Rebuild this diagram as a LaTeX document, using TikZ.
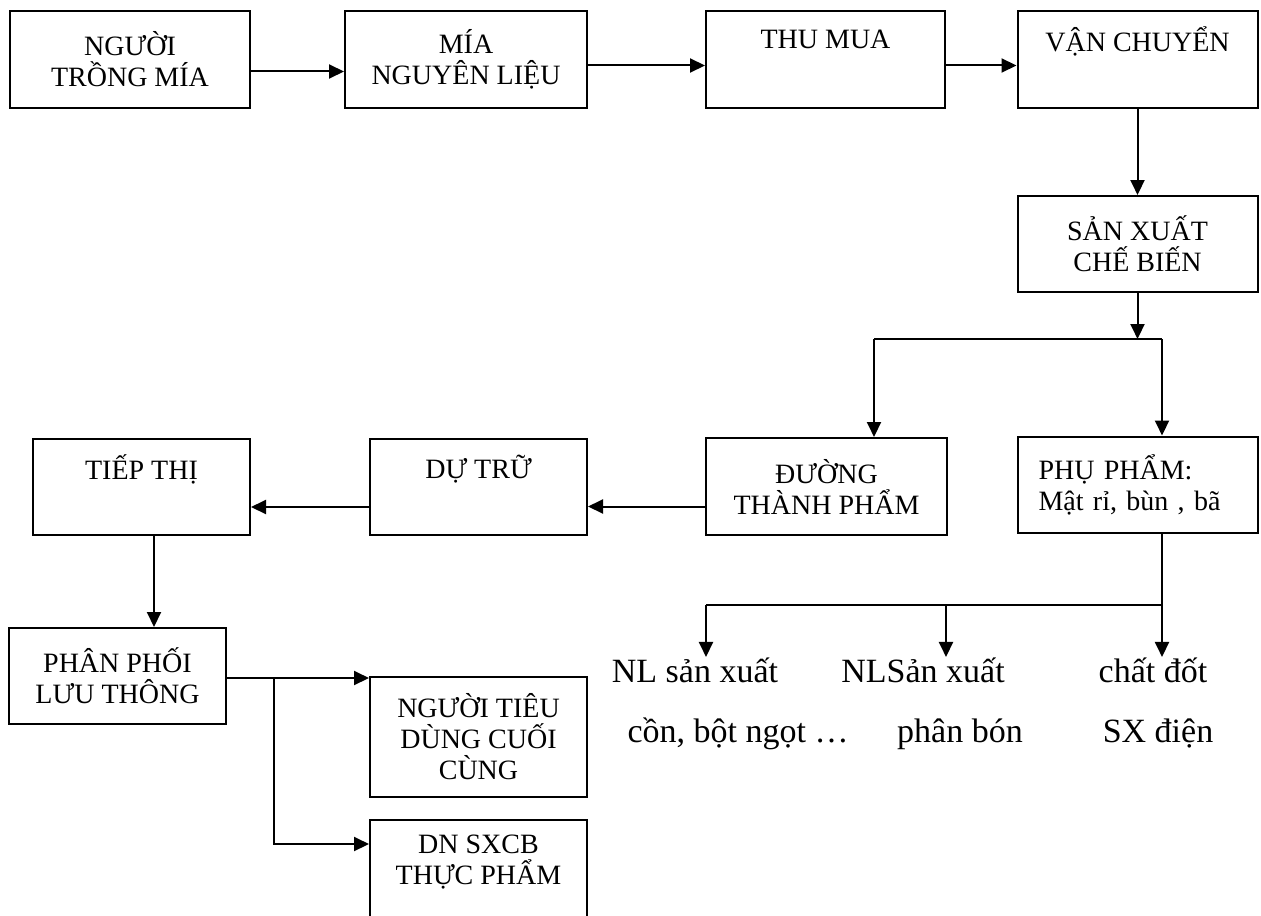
\documentclass[tikz,border=0pt]{standalone}
\usepackage{fontspec}
\setmainfont{Liberation Serif}
\usepackage{tikz}
\usetikzlibrary{arrows.meta, calc}

\begin{document}
\begin{tikzpicture}[x = 0.5pt, y = -0.5pt,
    blocco/.style = {draw, line width = 1pt, align = center, inner sep = 0pt,
        minimum width = 120pt, minimum height = 48pt,
        font = \fontsize{14}{15.5}\selectfont},
    freccia/.style = {line width = 1pt, -{Triangle[length = 7.5pt, width = 7pt]}},
    linea/.style = {line width = 1pt},
    voce/.style = {inner sep = 0pt, anchor = base, font = \fontsize{17}{20}\selectfont}]
    % Cornice
    \clip (0,0) rectangle (1261,915);
    \fill[white] (0,0) rectangle (1261,915);
    % Riga in alto
    \node[blocco] (trongMia) at (130,59.5) {NGƯỜI\\TRỒNG MÍA};
    \node[blocco, minimum width = 121pt] (miaNL) at (466,59.5) {MÍA\\NGUYÊN LIỆU};
    \node[blocco, minimum width = 119.5pt] (thuMua) at (825.5,59.5) {THU MUA\\\strut};
    \node[blocco] (vanChuyen) at (1137.5,59.5) {VẬN CHUYỂN\\\strut};
    \node[blocco] (sanXuat) at (1137.5,244) {SẢN XUẤT\\CHẾ BIẾN};
    % Riga in mezzo
    \node[blocco, minimum width = 120.5pt, minimum height = 48.5pt] (duong) at (826.5,486.5) {ĐƯỜNG\\THÀNH PHẨM};
    \node[blocco, align = left, text width = 99pt] (phuPham) at (1137.5,484.5) {PHỤ PHẨM:\\Mật rỉ, bùn , bã};
    \node[blocco, minimum width = 108.5pt] (duTru) at (478.5,487) {DỰ TRỮ\\\strut};
    \node[blocco, minimum width = 108.5pt] (tiepThi) at (141.5,487) {TIẾP THỊ\\\strut};
    % Riga in basso
    \node[blocco, minimum width = 108.5pt] (phanPhoi) at (117.5,676) {PHÂN PHỐI\\LƯU THÔNG};
    \node[blocco, minimum width = 108.5pt, minimum height = 60pt] (tieuDung) at (478.5,737) {NGƯỜI TIÊU\\DÙNG CUỐI\\CÙNG};
    \node[blocco, minimum width = 108.5pt, minimum height = 60pt] (dnSxcb) at (478.5,880) {DN SXCB\\THỰC PHẨM\\\strut};
    % Voci dei phụ phẩm
    \node[voce] (nlCon) at (695,682) {NL sản xuất};
    \node[voce] (nlConB) at (738,742) {cồn, bột ngọt …};
    \node[voce] (nlPhan) at (923,682) {NLSản xuất};
    \node[voce] (nlPhanB) at (960,742) {phân bón};
    \node[voce] (chatDot) at (1153,682) {chất đốt};
    \node[voce] (chatDotB) at (1158,742) {SX điện};
    % Punti di biforcazione
    \coordinate (biv1) at (874,339);
    \coordinate (biv2) at (1162,339);
    \coordinate (biv3) at (1162,605);
    \coordinate (biv4) at (706,605);
    \coordinate (biv5) at (946,605);
    \coordinate (diram) at (274,678);
    % Frecce
    \draw[freccia] ([yshift = -6pt]trongMia.east) -- ([yshift = -6pt]miaNL.west);
    \draw[freccia] ([yshift = -3pt]miaNL.east) -- ([yshift = -3pt]thuMua.west);
    \draw[freccia] ([yshift = -3pt]thuMua.east) -- ([yshift = -3pt]vanChuyen.west);
    \draw[freccia] (vanChuyen.south) -- (sanXuat.north);
    \draw[freccia] (sanXuat.south) -- (sanXuat.south |- biv1);
    \draw[linea] (biv1) -- (biv2);
    \draw[freccia] (biv1) -- (biv1 |- duong.north);
    \draw[freccia] (biv2) -- (biv2 |- phuPham.north);
    \draw[freccia] ([yshift = -10pt]duong.west) -- ([yshift = -10pt]duong.west -| duTru.east);
    \draw[freccia] ([yshift = -10pt]duTru.west) -- ([yshift = -10pt]duTru.west -| tiepThi.east);
    \draw[freccia] ([xshift = 6.25pt]tiepThi.south) -- ([xshift = 6.25pt]tiepThi.south |- phanPhoi.north);
    \draw[freccia] ([yshift = -1pt]phanPhoi.east) -- ([yshift = -1pt]phanPhoi.east -| tieuDung.west);
    \draw[freccia] (diram) |- ([yshift = 18pt]dnSxcb.west);
    \draw[linea] (biv2 |- phuPham.south) -- (biv3) -- (biv4);
    \draw[freccia] (biv4) -- (biv4 |- nlCon.north);
    \draw[freccia] (biv5) -- (biv5 |- nlPhan.north);
    \draw[freccia] (biv3) -- (biv3 |- chatDot.north);
\end{tikzpicture}
\end{document}
